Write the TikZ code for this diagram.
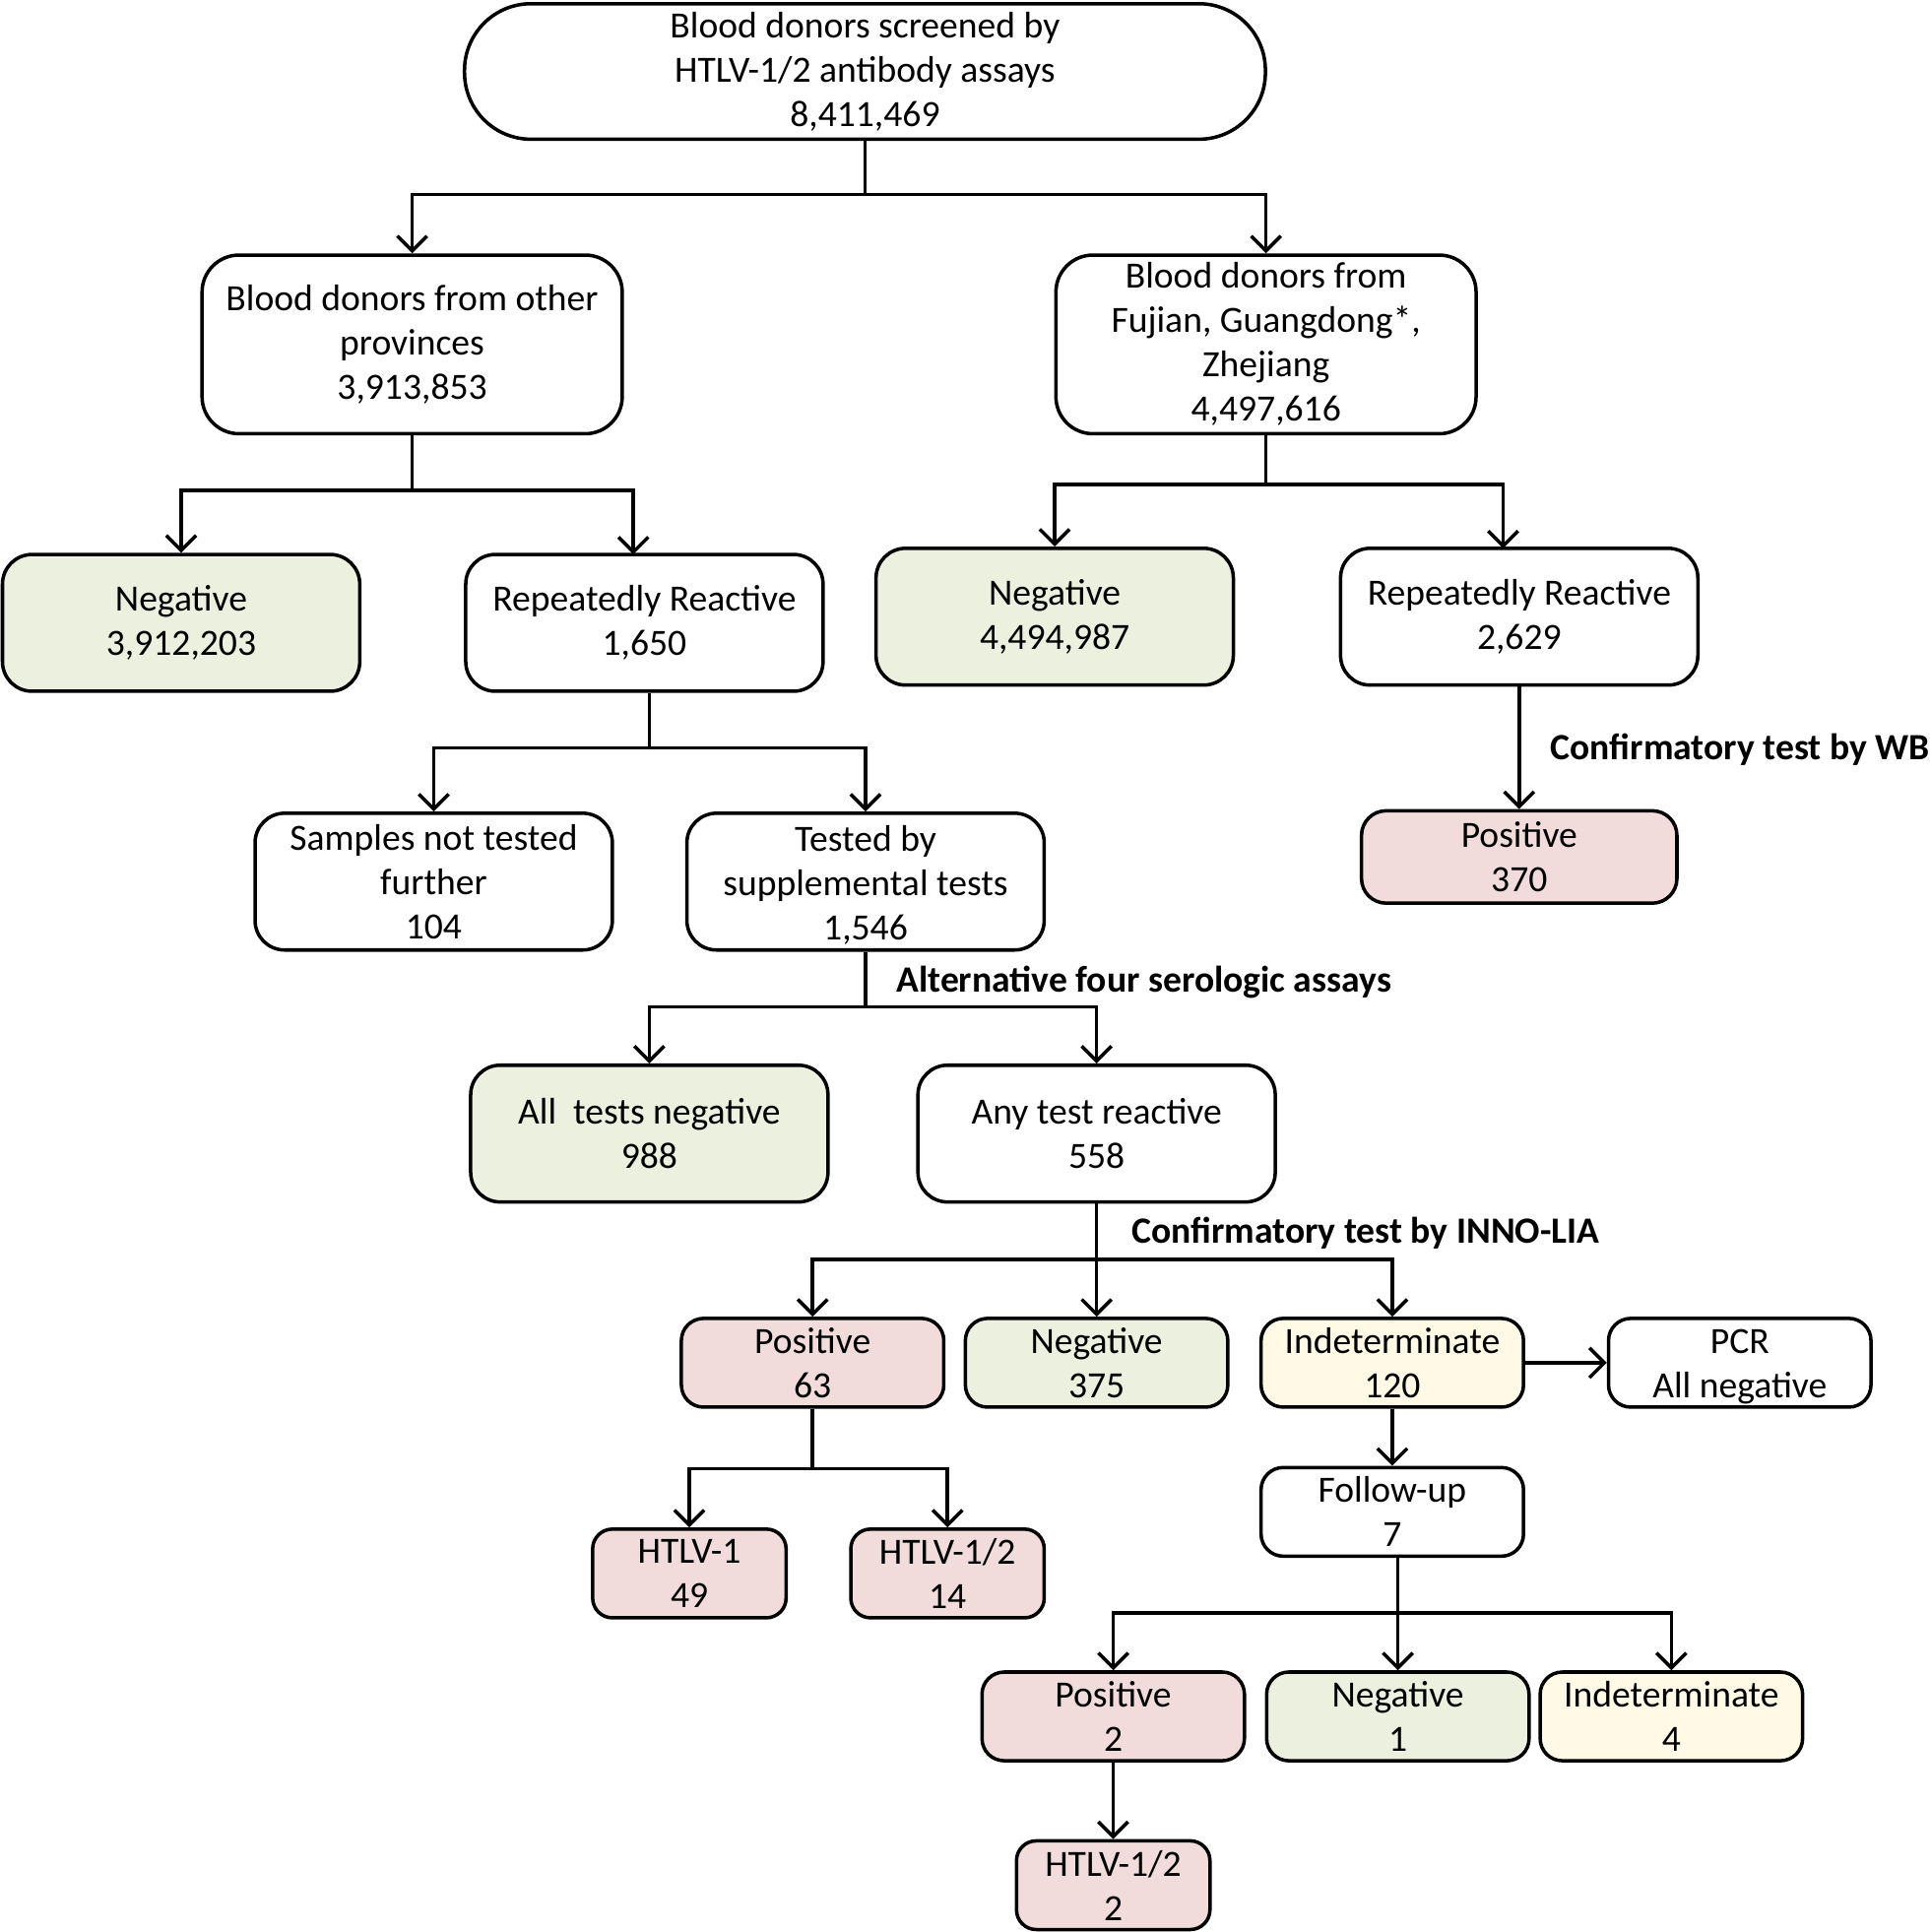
\documentclass[tikz,border=0pt]{standalone}
\usepackage{fontspec}
\setmainfont{Carlito}
\usetikzlibrary{arrows.meta}
\newdimen\pxu \pxu=0.012516cm
\definecolor{gfill}{HTML}{EBF1DE}
\definecolor{rfill}{HTML}{F2DCDB}
\definecolor{yfill}{HTML}{FFF9E6}
\tikzset{
  box/.style={draw, line width=1pt, align=center, inner sep=0pt, fill=white,
    font=\fontsize{10.7}{12.8}\selectfont},
  bigbox/.style={box, minimum width=341\pxu, minimum height=145\pxu, rounded corners=30\pxu},
  midbox/.style={box, minimum width=290\pxu, minimum height=111\pxu, rounded corners=24\pxu},
  smallbox/.style={box, minimum width=213\pxu, minimum height=72\pxu, rounded corners=18\pxu},
  tinybox/.style={box, minimum width=157\pxu, minimum height=72\pxu, rounded corners=16\pxu},
  posf/.style={fill=rfill}, negf/.style={fill=gfill}, indf/.style={fill=yfill},
  lbl/.style={anchor=west, inner sep=0pt, font=\fontsize{10.7}{12.8}\selectfont\bfseries},
  ln/.style={line width=1pt},
  arr/.style={line width=1pt, -{Straight Barb[length=4.3pt,width=8.6pt,line width=1pt]}}
}
\begin{document}
\begin{tikzpicture}[x=0.012516cm, y=-0.012516cm]
\useasboundingbox (0,0) rectangle (1566,1568);
% level 0
\node[box, minimum width=650\pxu, minimum height=110\pxu, rounded corners=54\pxu] (top) at (702,58)
  {Blood donors screened by\\HTLV-1/2 antibody assays\\8,411,469};
% level 1
\node[bigbox] (oth) at (334.5,279.5) {Blood donors from other\\provinces\\3,913,853};
\node[bigbox] (fgz) at (1027.5,279.5) {Blood donors from\\Fujian, Guangdong*,\\Zhejiang\\4,497,616};
% level 2
\node[midbox, negf] (negA) at (147,505.5) {Negative\\3,912,203};
\node[midbox] (rrA) at (523,505.5) {Repeatedly Reactive\\1,650};
\node[midbox, negf] (negB) at (856,500.5) {Negative\\4,494,987};
\node[midbox] (rrB) at (1233,500.5) {Repeatedly Reactive\\2,629};
% level 3
\node[midbox] (nt) at (352,715.5) {Samples not tested\\further\\104};
\node[midbox] (sup) at (702.5,715.5) {\rule{0pt}{9.7pt}Tested by\\supplemental tests\\1,546};
\node[box, posf, minimum width=256\pxu, minimum height=75\pxu, rounded corners=20\pxu] (posB) at (1233,695.5) {Positive\\370};
% level 4
\node[midbox, negf] (alln) at (527,920) {All\ \ tests negative\\988};
\node[midbox] (anyr) at (890,920) {Any test reactive\\558};
% level 5
\node[smallbox, posf] (p63) at (659.5,1106) {Positive\\63};
\node[smallbox, negf] (n375) at (890,1106) {Negative\\375};
\node[smallbox, indf] (i120) at (1130,1106) {Indeterminate\\120};
\node[smallbox] (pcr) at (1412,1106) {\rule{0pt}{9pt}PCR\\All negative};
% level 6
\node[tinybox, posf] (h1) at (559.5,1277) {HTLV-1\\49};
\node[tinybox, posf] (h12) at (769,1277) {HTLV-1/2\\14};
\node[smallbox] (fu) at (1130,1227) {Follow-up\\7};
% level 7
\node[smallbox, posf] (p2) at (903.5,1393) {Positive\\2};
\node[smallbox, negf] (n1) at (1134.5,1393) {Negative\\1};
\node[smallbox, indf] (i4) at (1356.5,1393) {Indeterminate\\4};
% level 8
\node[tinybox, posf] (h122) at (903.5,1530) {HTLV-1/2\\2};
% labels
\node[lbl] (lwb) at (1258,608) {Confirmatory test by WB};
\node[lbl] (lalt) at (727,797) {Alternative four serologic assays};
\node[lbl] (llia) at (918,1001) {Confirmatory test by INNO-LIA};
% connectors
\coordinate (j0) at (702,158);
\draw[ln] (top.south) -- (j0);
\draw[arr] (j0) -| (oth.north);
\draw[arr] (j0) -| (fgz.north);

\coordinate (j1) at (334.5,398);
\draw[ln] (oth.south) -- (j1);
\draw[arr] (j1) -| (negA.north);
\draw[arr] (j1) -| (514,450);

\coordinate (j2) at (1027.5,393);
\draw[ln] (fgz.south) -- (j2);
\draw[arr] (j2) -| (negB.north);
\draw[arr] (j2) -| (1220,445);

\coordinate (j3) at (527,607);
\draw[ln] (rrA.south -| j3) -- (j3);
\draw[arr] (j3) -| (nt.north);
\draw[arr] (j3) -| (sup.north);

\draw[arr] (rrB.south) -- (posB.north);

\coordinate (j4) at (702.5,817);
\draw[ln] (sup.south) -- (j4);
\draw[arr] (j4) -| (alln.north);
\draw[arr] (j4) -| (anyr.north);

\coordinate (j5) at (890,1022);
\draw[arr] (anyr.south) -- (n375.north);
\draw[ln] (p63.center |- j5) -- (i120.center |- j5);
\draw[arr] (j5) -| (p63.north);
\draw[arr] (j5) -| (i120.north);

\draw[arr] (i120.east) -- (pcr.west);

\coordinate (j6) at (659.5,1192);
\draw[ln] (p63.south) -- (j6);
\draw[arr] (j6) -| (h1.north);
\draw[arr] (j6) -| (h12.north);

\draw[arr] (i120.south) -- (fu.north);

\coordinate (j7) at (1134.5,1309);
\draw[arr] (fu.south -| n1.north) -- (n1.north);
\draw[ln] (p2.center |- j7) -- (i4.center |- j7);
\draw[arr] (j7) -| (p2.north);
\draw[arr] (j7) -| (i4.north);

\draw[arr] (p2.south) -- (h122.north);
\end{tikzpicture}
\end{document}
